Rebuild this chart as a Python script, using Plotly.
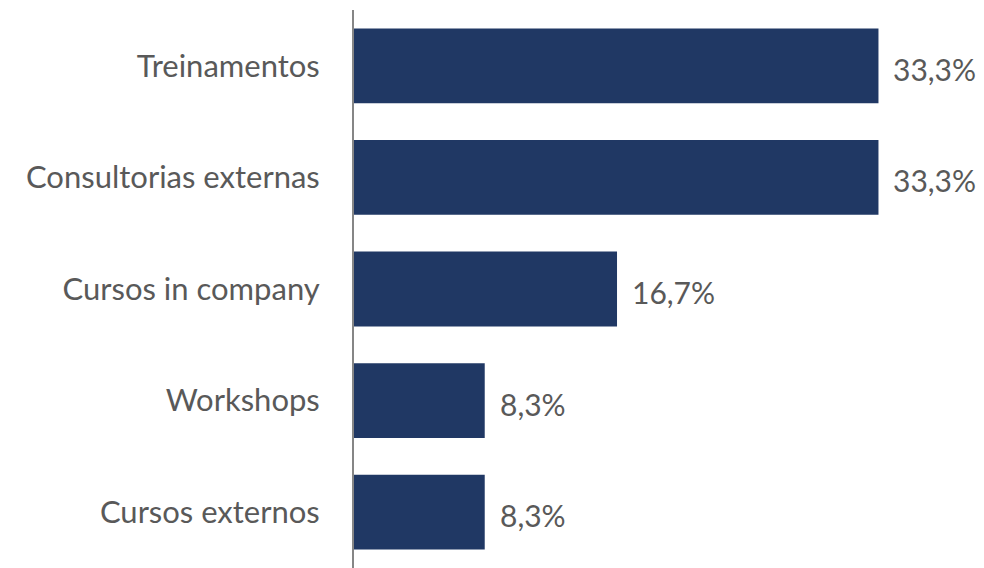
import plotly.graph_objects as go

categories = ["Treinamentos", "Consultorias externas", "Cursos in company", "Workshops", "Cursos externos"]
values = [33.3, 33.3, 16.7, 8.3, 8.3]
value_labels = ["33,3%", "33,3%", "16,7%", "8,3%", "8,3%"]

BAR = "#203864"
TXT = "#595959"
FONT = "Lato"
FS = 31

fig = go.Figure(go.Bar(
    x=values, y=categories, orientation="h",
    marker=dict(color=BAR, line=dict(width=0)),
    hoverinfo="skip",
))

for c, v, t in zip(categories, values, value_labels):
    fig.add_annotation(x=v, y=c, text=t, showarrow=False, xanchor="left",
                       xshift=13, yshift=-3,
                       font=dict(family=FONT, size=30, color=TXT))

# page body has an 8px default margin; compensate so the chart fills 984x568
fig.update_layout(
    width=976, height=560,
    margin=dict(l=346, r=0, t=2, b=0, autoexpand=False),
    paper_bgcolor="white", plot_bgcolor="white",
    bargap=0.33, showlegend=False,
    xaxis=dict(range=[0, 40], visible=False, fixedrange=True),
    yaxis=dict(categoryorder="array", categoryarray=categories, autorange="reversed",
               showline=True, linecolor="#868686", linewidth=2, showgrid=False,
               ticks="", ticklabelstandoff=26, automargin=False,
               tickfont=dict(family=FONT, size=FS, color=TXT)),
)

fig.write_html("out.html")
